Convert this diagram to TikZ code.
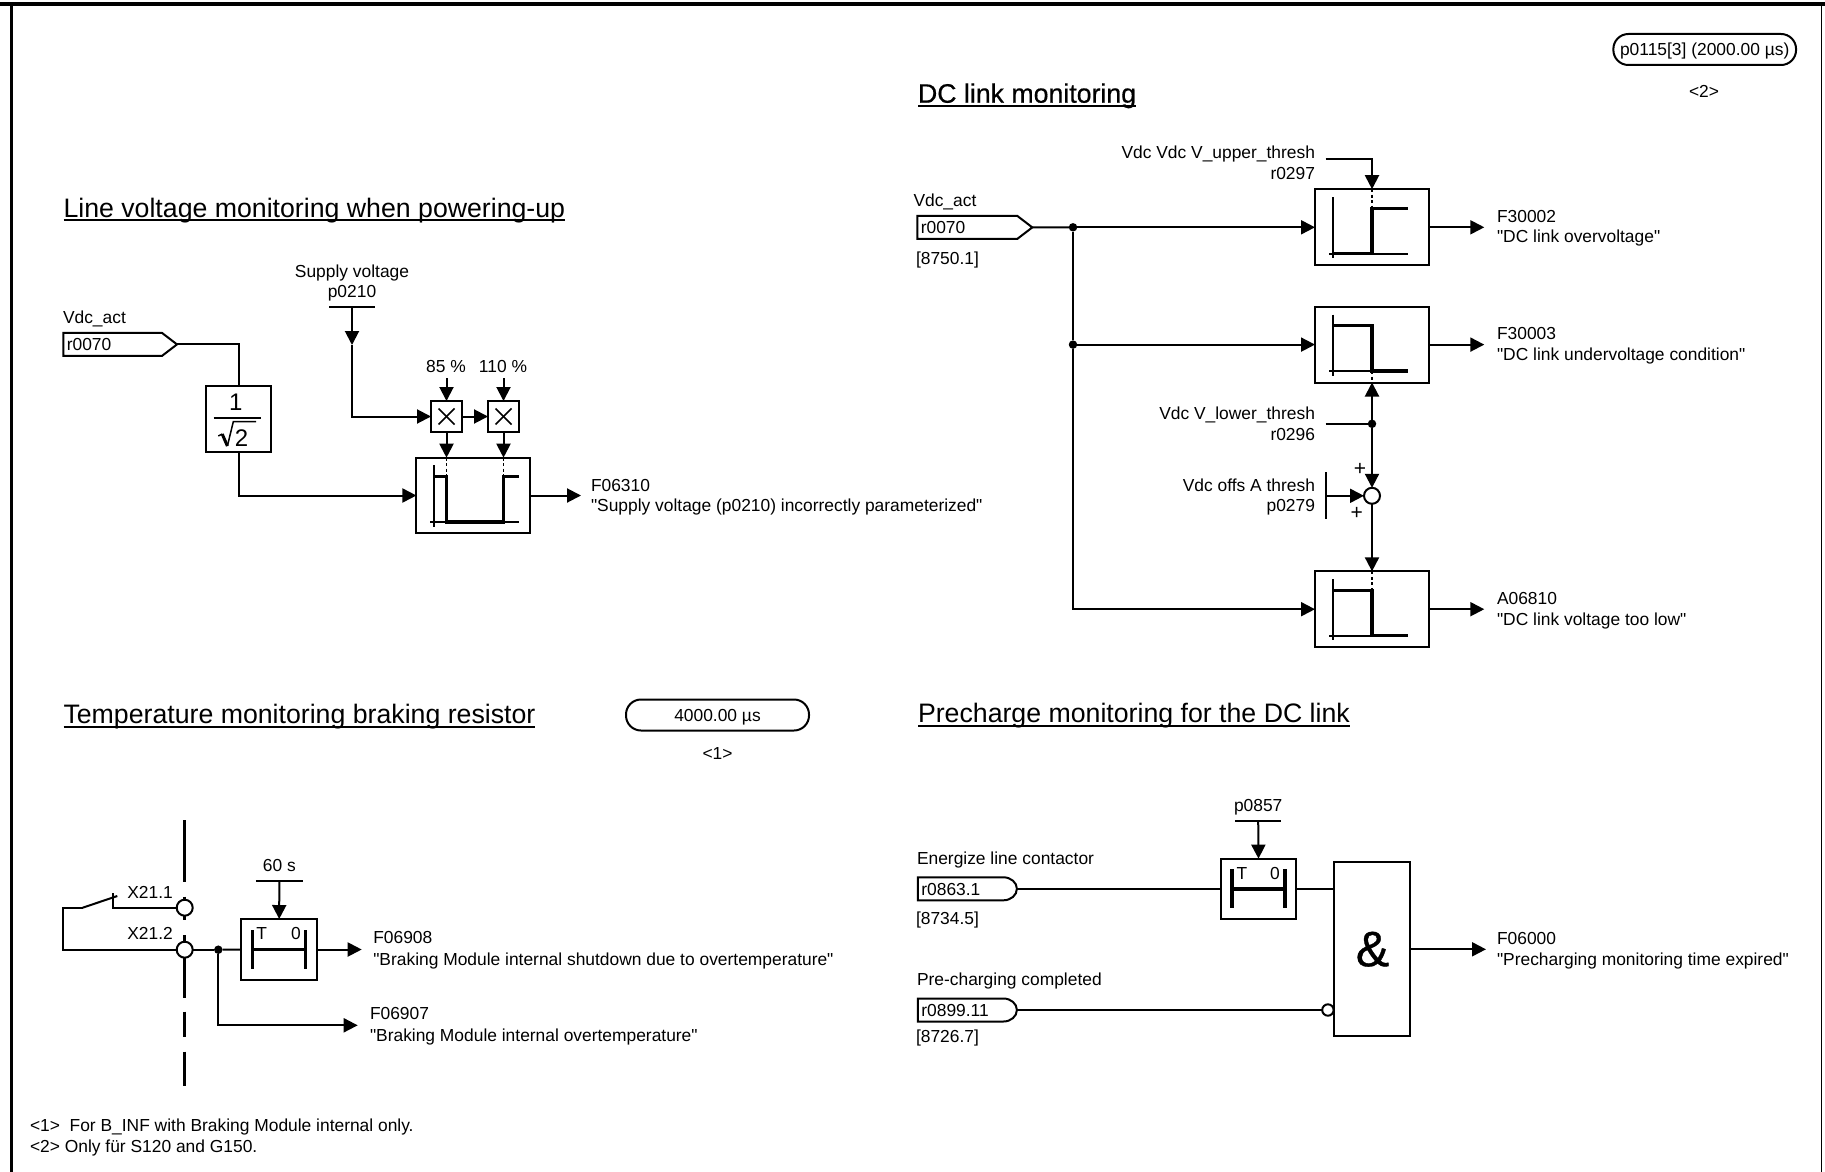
\documentclass[tikz,border=0pt]{standalone}
\usepackage{fontspec}
\setmainfont{Liberation Sans}[Ligatures=TeXOff]
\usetikzlibrary{arrows.meta}
\tikzset{
  every node/.style={font=\fontsize{17.4}{20}\selectfont,inner sep=0pt,outer sep=0pt},
  wire/.style={line width=2pt},
  arr/.style={line width=2pt,-{Triangle[length=14pt,width=14pt]}},
  lbl/.style={text height=12.5pt,text depth=0pt},
  lw/.style={lbl,anchor=west},
  le/.style={lbl,anchor=east},
  blk/.style={draw,line width=2pt,fill=white},
  dotj/.style={circle,fill=black,minimum size=8.5pt},
  term/.style={circle,draw,line width=2pt,fill=white,minimum size=16pt},
  neg/.style={circle,draw,line width=2pt,fill=white,minimum size=11.4pt},
  titletext/.style={font=\fontsize{26.7}{32}\selectfont,anchor=base west},
  under/.style={line width=2pt},
  sig/.style={lbl,anchor=west,align=left,inner xsep=3.5pt,minimum height=23pt},
  pill/.style={draw,line width=2pt,lbl,rounded corners=15pt,minimum height=31pt},
  axisl/.style={line width=2pt},
  trace/.style={line width=3.5pt},
  dotl/.style={line width=1.5pt,dash pattern=on 3pt off 2.5pt},
  barl/.style={line width=2pt},
  tbar/.style={line width=3.5pt},
  frameline/.style={line width=3.5pt},
  sepl/.style={line width=3pt},
}
\newcommand{\pentaoutline}[1]{\draw[wire] (#1.north west) -- ([xshift=-15pt]#1.north east) -- (#1.east) -- ([xshift=-15pt]#1.south east) -- (#1.south west) -- cycle;}
\newcommand{\roundoutline}[1]{\draw[wire] (#1.north west) -- ([xshift=-13.5pt]#1.north east) arc[start angle=90,end angle=-90,x radius=13.5pt,y radius=11.5pt] -- (#1.south west) -- cycle;}
\newcommand{\dchyst}[2]{\begin{scope}[shift={(#1,#2)}]
  \draw[axisl] (17.7,8) -- (17.7,69);
  \draw[axisl] (14.3,64.4) -- (93,64.4);
\end{scope}}
\begin{document}
\begin{tikzpicture}[x=1pt,y=-1pt]
\useasboundingbox (0,0) rectangle (1825,1172);
\fill[white] (0,0) rectangle (1825,1172);
% frame
\draw[frameline] (0,4) -- (1825,4);
\draw[line width=3.5pt] (11.3,4) -- (11.3,1172);
\draw[line width=1.5pt] (1821.7,4) -- (1821.7,1172);

% titles
\node[titletext] (t1) at (63.5,217.3) {Line voltage monitoring when powering-up};
\draw[under] ([yshift=-3pt]t1.base west) -- ([yshift=-3pt]t1.base east);
\node[titletext] (t2) at (918,102.7) {\addfontfeature{FakeBold=0.5}DC link monitoring};
\draw[under,line width=2.6pt] ([yshift=-3.3pt]t2.base west) -- ([yshift=-3.3pt]t2.base east);
\node[titletext] (t3) at (63.5,723.5) {Temperature monitoring braking resistor};
\draw[under] ([yshift=-3pt]t3.base west) -- ([yshift=-3pt]t3.base east);
\node[titletext] (t4) at (918,722.5) {Precharge monitoring for the DC link};
\draw[under] ([yshift=-3pt]t4.base west) -- ([yshift=-3pt]t4.base east);

% runtime pills
\node[pill,minimum width=182.7pt] (pillA) at (1704.7,49.5) {p0115[3] (2000.00 µs)};
\node[lbl] (noteA) at (1704,91) {<2>};
\node[pill,minimum width=183pt] (pillB) at (717.5,715) {4000.00 µs};
\node[lbl] (noteB) at (717.5,753) {<1>};

% ---- line voltage monitoring
\node[lw] (lvA) at (63,317.3) {Vdc\_act};
\node[sig,text width=106.7pt] (lvSig) at (63.3,344.4) {r0070};
\pentaoutline{lvSig}
\node[blk,minimum width=64.6pt,minimum height=66.3pt] (frac) at (238.7,419.2) {};
\node[lbl,font=\fontsize{24}{26}\selectfont,text height=17pt] (fracN) at (235.7,401.7) {1};
\node[lbl,font=\fontsize{24}{26}\selectfont,text height=17pt] (fracD) at (241.5,438.3) {2};
\draw[line width=2pt] (213.5,418) -- (261,418);
\draw[line width=1.5pt] (218.3,436) -- (222.2,434);
\draw[line width=3pt] (222.2,434) -- (227.4,446);
\draw[line width=1.5pt] (227.4,446) -- (233.3,421.7) -- (256.2,421.7);
\node[blk,minimum width=113.6pt,minimum height=75.6pt] (hy) at (473.2,495.5) {};
\node[blk,minimum width=31pt,minimum height=31pt] (m1) at (446.5,416.5) {};
\node[blk,minimum width=31pt,minimum height=31pt] (m2) at (503.5,416.5) {};
\draw[line width=1.5pt] ([shift={(-8,-8)}]m1.center) -- ([shift={(8,8)}]m1.center);
\draw[line width=1.5pt] ([shift={(-8,8)}]m1.center) -- ([shift={(8,-8)}]m1.center);
\draw[line width=1.5pt] ([shift={(-8,-8)}]m2.center) -- ([shift={(8,8)}]m2.center);
\draw[line width=1.5pt] ([shift={(-8,8)}]m2.center) -- ([shift={(8,-8)}]m2.center);
\draw[wire] (lvSig.east) -| (frac.north);
\draw[arr] (frac.south) |- (hy.west);
\coordinate (hyOut) at (581,495.5);
\draw[arr] (hy.east) -- (hyOut);
\node[lbl] (lvS1) at (352,271.5) {Supply voltage};
\node[lbl] (lvS2) at (352,291.7) {p0210};
\coordinate (supBar) at (352,306.7);
\coordinate (supMid) at (352,345);
\draw[barl] ([xshift=-23pt]supBar) -- ([xshift=23pt]supBar);
\draw[arr] (supBar) -- (supMid);
\draw[arr] (supMid) |- (m1.west);
\draw[arr] (m1.east) -- (m2.west);
\node[lbl] (p85) at (446,366.7) {85 \%};
\node[lbl] (p110) at (503,366.7) {110 \%};
\coordinate (c85) at (446.5,378.3);
\coordinate (c110) at (503.5,378.3);
\draw[arr] (c85) -- (m1.north);
\draw[arr] (c110) -- (m2.north);
\coordinate (hyT1) at (446.5,457.7);
\coordinate (hyT2) at (503.5,457.7);
\draw[arr] (m1.south) -- (hyT1);
\draw[arr] (m2.south) -- (hyT2);
\draw[dotl] (446.5,457.7) -- (446.5,476.7);
\draw[dotl] (503.5,457.7) -- (503.5,476.7);
\draw[axisl] (434,465) -- (434,526.7);
\draw[axisl] (430,522) -- (519,522);
\draw[trace] (434,476.7) -- (446.5,476.7) -- (446.5,522) -- (503.5,522) -- (503.5,476.7) -- (519,476.7);
\node[lw] (lvF1) at (591,485) {F06310};
\node[lw] (lvF2) at (591,505) {"Supply voltage (p0210) incorrectly parameterized"};

% ---- DC link monitoring
\node[lw] (dcA) at (913.5,200.7) {Vdc\_act};
\node[sig,text width=108pt] (dcSig) at (917.3,227.4) {r0070};
\pentaoutline{dcSig}
\node[lw] (dcB) at (916,258) {[8750.1]};
\node[blk,minimum width=114pt,minimum height=76.2pt] (b1) at (1372,227.3) {};
\node[blk,minimum width=114pt,minimum height=75.8pt] (b2) at (1372,344.6) {};
\node[blk,minimum width=114pt,minimum height=75.7pt] (b3) at (1372,609.2) {};
\node[dotj] (j1) at (1073,227.3) {};
\node[dotj] (j2) at (1073,344.6) {};
\draw[wire] (dcSig.east) -- (j1);
\draw[arr] (j1) -- (b1.west);
\draw[wire] (j1) -- (j2);
\draw[arr] (j2) -- (b2.west);
\draw[arr] (j2) |- (b3.west);
\coordinate (o1) at (1484.3,227.3);
\coordinate (o2) at (1484.3,344.6);
\coordinate (o3) at (1484.3,609.2);
\draw[arr] (b1.east) -- (o1);
\draw[arr] (b2.east) -- (o2);
\draw[arr] (b3.east) -- (o3);
\node[lw] (f1a) at (1497,216) {F30002};
\node[lw] (f1b) at (1497,236.5) {"DC link overvoltage"};
\node[lw] (f2a) at (1497,333) {F30003};
\node[lw] (f2b) at (1497,354) {"DC link undervoltage condition"};
\node[lw] (f3a) at (1497,598) {A06810};
\node[lw] (f3b) at (1497,619) {"DC link voltage too low"};
\node[le] (up1) at (1315,152) {Vdc Vdc V\_upper\_thresh};
\node[le] (up2) at (1315,173) {r0297};
\coordinate (upS) at (1325.7,159.3);
\draw[arr] (upS) -| (b1.north);
\draw[dotl] (1372,189.2) -- (1372,208.5);
\dchyst{1315}{189.2}
\draw[trace] (1332.7,253.6) -- (1372,253.6) -- (1372,208.5) -- (1408,208.5);
\dchyst{1315}{306.7}
\draw[trace] (1332.7,325.7) -- (1372,325.7) -- (1372,371.1) -- (1408,371.1);
\draw[dotl] (1372,371.1) -- (1372,382.5);
\dchyst{1315}{571.3}
\draw[trace] (1332.7,590.6) -- (1372,590.6) -- (1372,635.7) -- (1408,635.7);
\draw[dotl] (1372,571.3) -- (1372,590.6);
\node[le] (lo1) at (1315,413.2) {Vdc V\_lower\_thresh};
\node[le] (lo2) at (1315,434.2) {r0296};
\node[dotj] (j3) at (1372,423.8) {};
\coordinate (loS) at (1325.7,423.8);
\draw[wire] (loS) -- (j3);
\draw[arr] (j3) -- (b2.south);
\node[term] (sum) at (1372,495.8) {};
\draw[arr] (j3) -- (sum.north);
\draw[arr] (sum.south) -- (b3.north);
\coordinate (ofS) at (1326,495.8);
\draw[barl] ([yshift=-23pt]ofS) -- ([yshift=23.5pt]ofS);
\draw[arr] (ofS) -- (sum.west);
\node[le] (of1) at (1315,484.8) {Vdc offs A thresh};
\node[le] (of2) at (1315,505.5) {p0279};
\node[lbl,font=\fontsize{21}{24}\selectfont,text height=15pt] (plusA) at (1360,467.6) {+};
\node[lbl,font=\fontsize{21}{24}\selectfont,text height=15pt] (plusB) at (1356.7,512.4) {+};

% ---- temperature monitoring
\draw[sepl] (184.7,820) -- (184.7,881.7);
\draw[sepl] (184.7,896.7) -- (184.7,920);
\draw[sepl] (184.7,935) -- (184.7,998);
\draw[sepl] (184.7,1011.7) -- (184.7,1036.7);
\draw[sepl] (184.7,1051.7) -- (184.7,1086);
\node[term] (x1) at (184.7,907.7) {};
\node[term] (x2) at (184.7,949.7) {};
\node[lw] (x1t) at (127.3,892.3) {X21.1};
\node[lw] (x2t) at (127.3,933.3) {X21.2};
\coordinate (swA) at (112.7,907.7);
\coordinate (swB) at (112.7,893);
\coordinate (swC) at (82.7,907.7);
\coordinate (swD) at (117.3,896);
\coordinate (swE) at (63.3,907.7);
\draw[wire] (x1.west) -- (swA) -- (swB);
\draw[wire] (swC) -- (swD);
\draw[wire] (swC) -- (swE) |- (x2.west);
\node[dotj] (j4) at (218.3,949.7) {};
\node[blk,minimum width=76.3pt,minimum height=61pt] (tb1) at (279.2,949.5) {};
\draw[wire] (x2.east) -- (j4);
\draw[wire] (j4) -- (tb1.west);
\coordinate (o4) at (361.7,949.5);
\draw[arr] (tb1.east) -- (o4);
\coordinate (o5) at (357.7,1025.3);
\draw[arr] (j4) |- (o5);
\node[lbl] (s60) at (279.3,865) {60 s};
\coordinate (bar60) at (279.3,881);
\draw[barl] ([xshift=-23.5pt]bar60) -- ([xshift=23.5pt]bar60);
\draw[arr] (bar60) -- (tb1.north);
\draw[tbar] (252.7,930) -- (252.7,969.3);
\draw[tbar] (305.3,930) -- (305.3,969.3);
\draw[tbar] (252.7,949.7) -- (305.3,949.7);
\node[lbl] (tT1) at (261.7,933) {T};
\node[lbl] (tO1) at (296,933) {0};
\node[lw] (f8a) at (373.3,937.7) {F06908};
\node[lw] (f8b) at (373.3,959.3) {"Braking Module internal shutdown due to overtemperature"};
\node[lw] (f7a) at (370,1013.7) {F06907};
\node[lw] (f7b) at (370,1035.3) {"Braking Module internal overtemperature"};

% ---- precharge monitoring
\node[lw] (eT) at (917,858.3) {Energize line contactor};
\node[sig,text width=92pt] (eSig) at (917.9,888.8) {r0863.1};
\roundoutline{eSig}
\node[lw] (eB) at (916,918.3) {[8734.5]};
\node[lw] (pT) at (917,979.3) {Pre-charging completed};
\node[sig,text width=92pt] (pSig) at (917.9,1010) {r0899.11};
\roundoutline{pSig}
\node[lw] (pB) at (916,1036.7) {[8726.7]};
\node[blk,minimum width=75.7pt,minimum height=60.3pt] (tb2) at (1258.5,888.8) {};
\node[blk,minimum width=75.6pt,minimum height=174pt] (and) at (1371.8,949) {};
\node[lbl,font=\fontsize{50}{54}\selectfont\addfontfeature{FakeBold=0.7},text height=36pt] (ampS) at (1372.5,948.3) {\&};
\draw[wire] (eSig.east) -- (tb2.west);
\draw[wire] ([xshift=1pt]tb2.east) -- (tb2.east -| and.west);
\node[neg] (nc) at (1327.9,1010) {};
\draw[wire] (pSig.east) -- (nc.west);
\coordinate (o6) at (1486,949.3);
\draw[arr] (and.east |- o6) -- (o6);
\node[lbl] (pp) at (1258.2,805) {p0857};
\coordinate (bar857) at (1258.2,820.7);
\draw[barl] ([xshift=-23pt]bar857) -- ([xshift=23pt]bar857);
\draw[arr] (bar857) -- (tb2.north);
\draw[tbar] (1232,869.3) -- (1232,908.3);
\draw[tbar] (1285,869.3) -- (1285,908.3);
\draw[tbar] (1232,888.8) -- (1285,888.8);
\node[lbl] (tT2) at (1241.8,873.5) {T};
\node[lbl] (tO2) at (1275,873.5) {0};
\node[lw] (f0a) at (1497,938) {F06000};
\node[lw] (f0b) at (1497,959) {"Precharging monitoring time expired"};

% notes
\node[lw] (n1) at (30,1125) {<1>\ \ For B\_INF with Braking Module internal only.};
\node[lw] (n2) at (30,1146.7) {<2> Only für S120 and G150.};
\end{tikzpicture}
\end{document}
